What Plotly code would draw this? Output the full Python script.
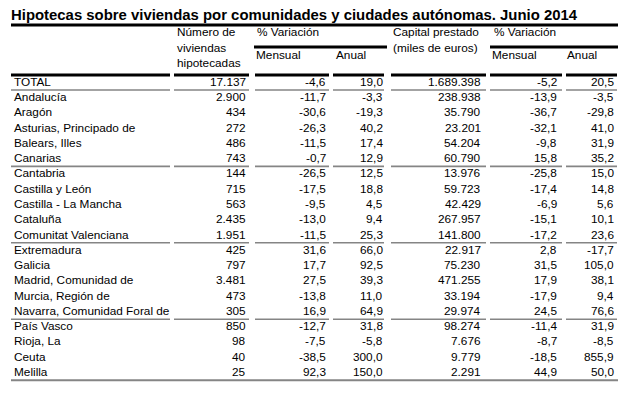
import plotly.graph_objects as go

# ---------------- data ----------------
title = "Hipotecas sobre viviendas por comunidades y ciudades autónomas. Junio 2014"
regions = ["TOTAL", "Andalucía", "Aragón", "Asturias, Principado de", "Balears, Illes",
           "Canarias", "Cantabria", "Castilla y León", "Castilla - La Mancha", "Cataluña",
           "Comunitat Valenciana", "Extremadura", "Galicia", "Madrid, Comunidad de",
           "Murcia, Región de", "Navarra, Comunidad Foral de", "País Vasco", "Rioja, La",
           "Ceuta", "Melilla"]
viviendas = [17137, 2900, 434, 272, 486, 743, 144, 715, 563, 2435, 1951, 425, 797, 3481,
             473, 305, 850, 98, 40, 25]
viv_var_mensual = [-4.6, -11.7, -30.6, -26.3, -11.5, -0.7, -26.5, -17.5, -9.5, -13.0, -11.5,
                   31.6, 17.7, 27.5, -13.8, 16.9, -12.7, -7.5, -38.5, 92.3]
viv_var_anual = [19.0, -3.3, -19.3, 40.2, 17.4, 12.9, 12.5, 18.8, 4.5, 9.4, 25.3, 66.0,
                 92.5, 39.3, 11.0, 64.9, 31.8, -5.8, 300.0, 150.0]
capital = [1689398, 238938, 35790, 23201, 54204, 60790, 13976, 59723, 42429, 267957,
           141800, 22917, 75230, 471255, 33194, 29974, 98274, 7676, 9779, 2291]
cap_var_mensual = [-5.2, -13.9, -36.7, -32.1, -9.8, 15.8, -25.8, -17.4, -6.9, -15.1, -17.2,
                   2.8, 31.5, 17.9, -17.9, 24.5, -11.4, -8.7, -18.5, 44.9]
cap_var_anual = [20.5, -3.5, -29.8, 41.0, 31.9, 35.2, 15.0, 14.8, 5.6, 10.1, 23.6, -17.7,
                 105.0, 38.1, 9.4, 76.6, 31.9, -8.5, 855.9, 50.0]
group_ends = [0, 5, 10, 15]  # rows after which a separator is drawn

# ---------------- layout constants ----------------
W, H = 633, 404
OFF = 8                           # default page margin around the plot div
ROW0, ROWH = 81.7, 15.28          # pixel centre of first row, row pitch
FONT = "Liberation Sans, Arial, sans-serif"
FS = 11.8
GREY = "#858585"


def r(py):
    return (py - ROW0) / ROWH


def fint(v):
    return f"{v:,}".replace(",", ".")


def fdec(v):
    return f"{v:.1f}".replace(".", ",")


# column segments (left, right) and right anchor for numbers
segs = [(11, 170), (174, 249), (255, 329), (333, 384), (391, 486), (490, 562), (566, 617)]
num_right = [245.5, 325.5, 382.5, 481, 557, 614]

columns = [
    [fint(v) for v in viviendas],
    [fdec(v) for v in viv_var_mensual],
    [fdec(v) for v in viv_var_anual],
    [fint(v) for v in capital],
    [fdec(v) for v in cap_var_mensual],
    [fdec(v) for v in cap_var_anual],
]

ann = []


def txt(x, y, s, anchor="left", size=FS, bold=False):
    ann.append(dict(x=x, y=y, xref="x", yref="y", text=f"<b>{s}</b>" if bold else s,
                    showarrow=False, xanchor=anchor, yanchor="middle",
                    borderpad=0, borderwidth=0,
                    font=dict(family=FONT, size=size, color="#000000")))


# title
txt(11, r(14.8), title, size=14.9, bold=True)

# headers
txt(177, r(32.3), "Número de")
txt(177, r(48.3), "viviendas")
txt(177, r(63.3), "hipotecadas")
txt(257, r(32.3), "% Variación")
txt(256, r(55), "Mensual")
txt(336, r(55), "Anual")
txt(393, r(32.3), "Capital prestado")
txt(393, r(47.7), "(miles de euros)")
txt(494, r(32.3), "% Variación")
txt(492, r(55), "Mensual")
txt(567, r(55), "Anual")

# body
for i, name in enumerate(regions):
    txt(14, i, name)
    for c, col in enumerate(columns):
        txt(num_right[c], i, col[i], anchor="right")

shapes = []


def hline(x0, x1, py, color, width):
    shapes.append(dict(type="line", xref="x", yref="y", x0=x0, x1=x1, y0=r(py), y1=r(py),
                       line=dict(color=color, width=width)))


# thick rules
hline(11, 618, 25, "#000000", 3)
hline(254, 387, 47, "#000000", 3)
hline(490, 618, 47, "#000000", 3)
for a, b in segs:
    hline(a, b, 75, "#000000", 3)

# group separators
for g in group_ends:
    py = ROW0 + g * ROWH + 8.3
    for a, b in segs:
        hline(a, b, py, GREY, 1.6)

# bottom rule
hline(11, 618, ROW0 + (len(regions) - 1) * ROWH + 8.3, GREY, 2)

fig = go.Figure()
fig.add_trace(go.Scatter(x=[OFF, W], y=[r(OFF), r(H)], mode="markers",
                         marker=dict(opacity=0), hoverinfo="skip", showlegend=False))
fig.update_layout(
    width=W - OFF, height=H - OFF, margin=dict(l=0, r=0, t=0, b=0),
    paper_bgcolor="white", plot_bgcolor="white",
    xaxis=dict(range=[OFF, W], visible=False, fixedrange=True),
    yaxis=dict(range=[r(H), r(OFF)], visible=False, fixedrange=True),
    annotations=ann, shapes=shapes, showlegend=False,
)
fig.write_html("out.html", config={"displayModeBar": False})
